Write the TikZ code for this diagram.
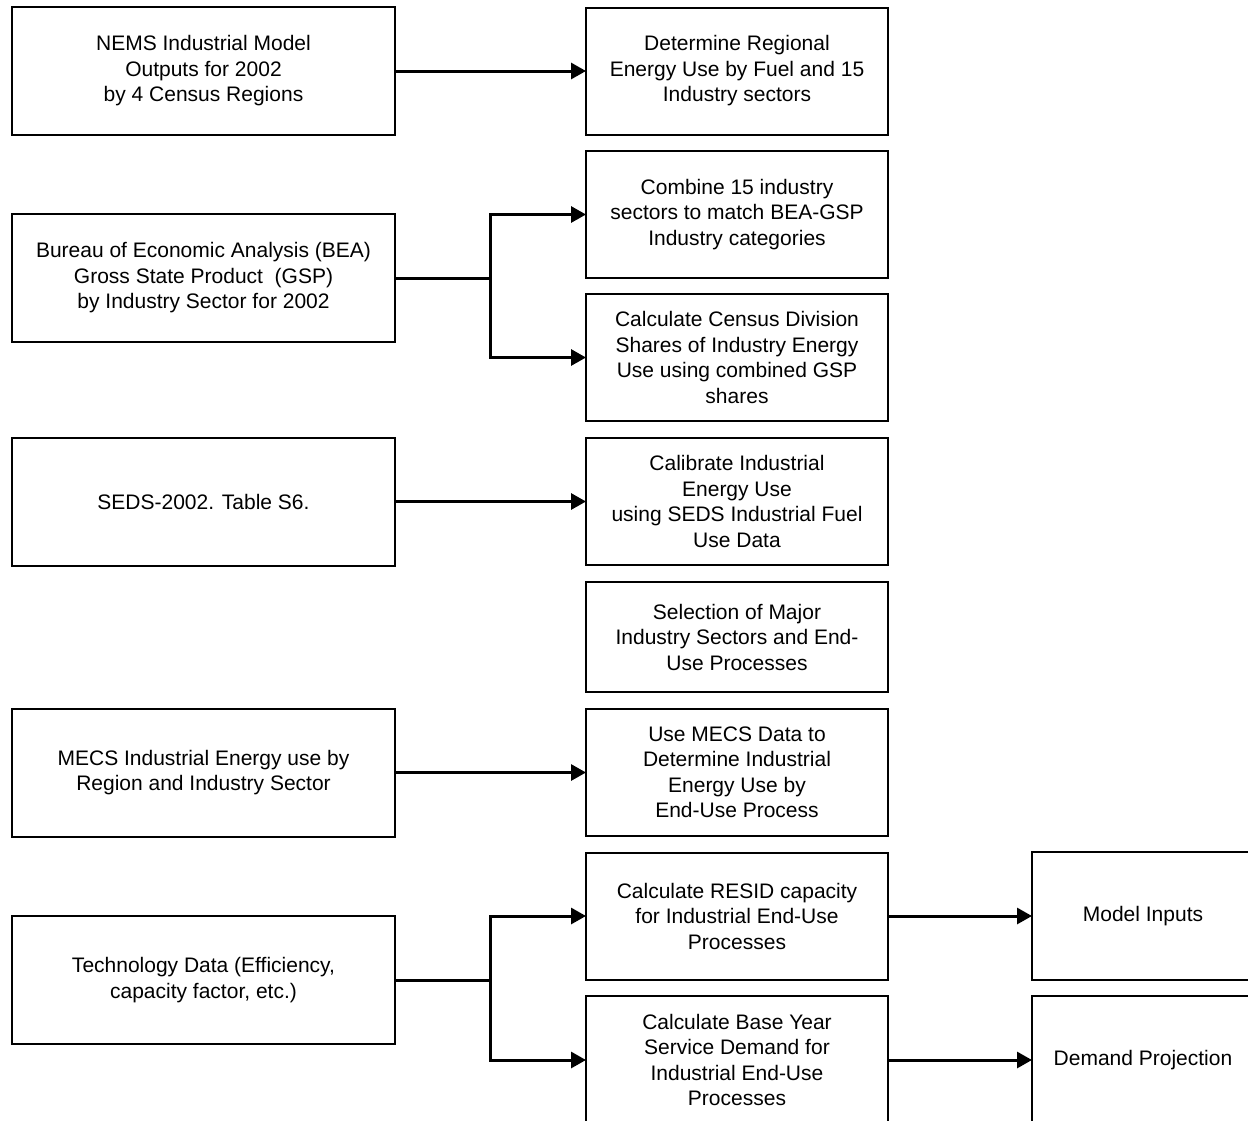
\documentclass[tikz,border=0pt]{standalone}
\usepackage{fontspec}
\setmainfont{Liberation Sans}
\usetikzlibrary{arrows.meta}
\begin{document}
\begin{tikzpicture}[x=1pt,y=-1pt,
  box/.style={draw=black,line width=2pt,rectangle,inner sep=0pt,outer sep=0pt,
    align=center,font=\fontsize{21}{25.5}\selectfont},
  srcbox/.style={box,minimum width=383pt,minimum height=128pt},
  stepbox/.style={box,minimum width=302pt,minimum height=127pt},
  endbox/.style={box,minimum width=222pt,minimum height=128pt},
  link/.style={line width=3pt},
  arr/.style={link,-{Triangle[length=15pt,width=16pt]}}]
\useasboundingbox (0,0) rectangle (1248,1120);

% source boxes (left column)
\node[srcbox] (L1) at (203.5,71) {NEMS Industrial Model\\Outputs for 2002\\by 4 Census Regions};
\node[srcbox] (L2) at (203.5,278) {Bureau of Economic Analysis (BEA)\\Gross State Product\ \ (GSP)\\by Industry Sector for 2002};
\node[srcbox] (L3) at (203.5,501.5) {SEDS-2002. Table S6.};
\node[srcbox] (L4) at (203.5,772.5) {MECS Industrial Energy use by\\Region and Industry Sector};
\node[srcbox] (L5) at (203.5,980) {Technology Data (Efficiency,\\capacity factor, etc.)};

% processing steps (middle column)
\node[stepbox] (M1) at (737,71) {Determine Regional\\Energy Use by Fuel and 15\\Industry sectors};
\node[stepbox] (M2) at (737,214.5) {Combine 15 industry\\sectors to match BEA-GSP\\Industry categories};
\node[stepbox] (M3) at (737,357.5) {Calculate Census Division\\Shares of Industry Energy\\Use using combined GSP\\shares};
\node[stepbox] (M4) at (737,501.5) {Calibrate Industrial\\Energy Use\\using SEDS Industrial Fuel\\Use Data};
\node[stepbox,minimum height=110pt] (M5) at (737,637) {Selection of Major\\Industry Sectors and End-\\Use Processes};
\node[stepbox] (M6) at (737,772.5) {Use MECS Data to\\Determine Industrial\\Energy Use by\\End-Use Process};
\node[stepbox] (M7) at (737,916) {Calculate RESID capacity\\for Industrial End-Use\\Processes};
\node[stepbox,minimum height=128pt] (M8) at (737,1060) {Calculate Base Year\\Service Demand for\\Industrial End-Use\\Processes};

% results (right column)
\node[endbox] (R1) at (1143,916) {Model Inputs};
\node[endbox] (R2) at (1143,1060) {Demand Projection};

% branch points
\coordinate (b1) at (490,278);
\coordinate (b2) at (490,980);

% connectors
\draw[arr] (L1.east) -- (M1.west);
\draw[link] (L2.east) -- (b1);
\draw[arr] (b1) |- (M2.west);
\draw[arr] (b1) |- (M3.west);
\draw[arr] (L3.east) -- (M4.west);
\draw[arr] (L4.east) -- (M6.west);
\draw[link] (L5.east) -- (b2);
\draw[arr] (b2) |- (M7.west);
\draw[arr] (b2) |- (M8.west);
\draw[arr] (M7.east) -- (R1.west);
\draw[arr] (M8.east) -- (R2.west);
\end{tikzpicture}
\end{document}
